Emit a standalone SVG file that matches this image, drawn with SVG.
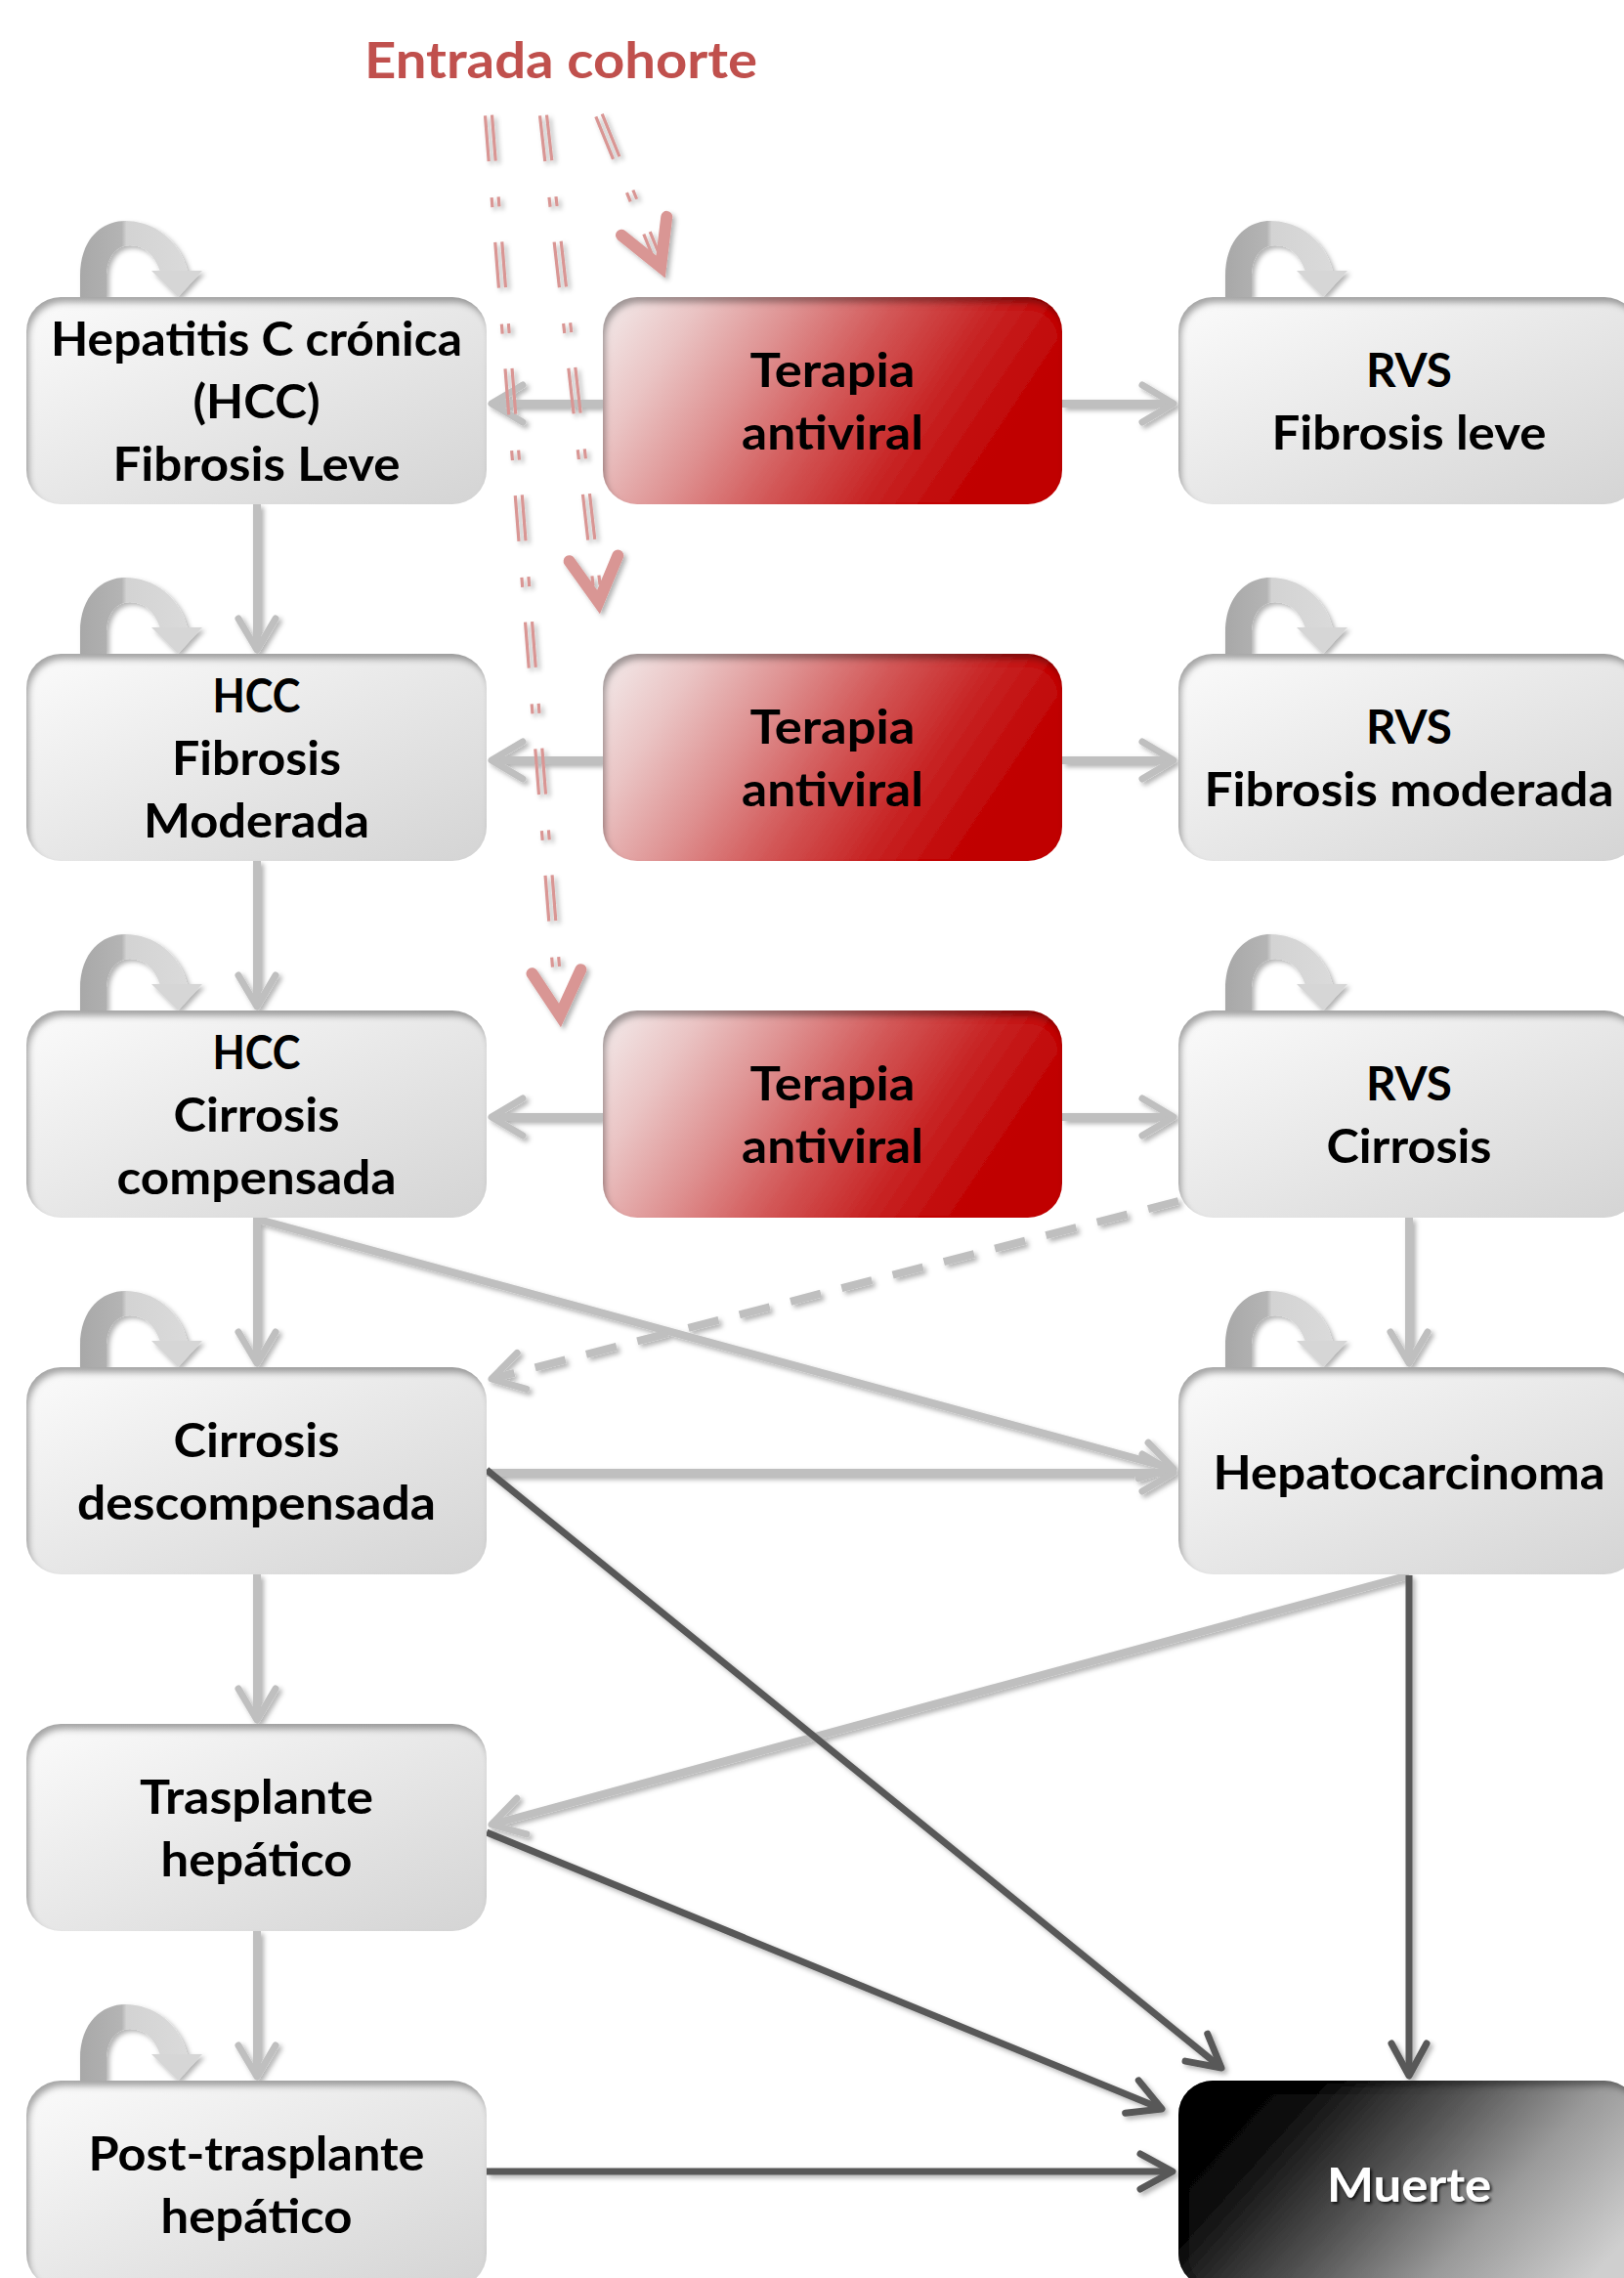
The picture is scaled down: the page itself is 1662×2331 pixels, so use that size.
<svg xmlns="http://www.w3.org/2000/svg" width="1662" height="2331" viewBox="0 0 1662 2331">
<style>
.t{font-family:Lato,"Open Sans","Liberation Sans",sans-serif;font-weight:700;font-size:48px;fill:#000;text-anchor:middle}
.tw{fill:#fff}
.lg{fill:none;stroke:#bfbfbf;stroke-width:8}
.dk{fill:none;stroke:#595959;stroke-width:7}
.rd{fill:none;stroke:#d99694;stroke-width:3.2;stroke-dasharray:47 37 10 36}
.box{fill:url(#gGrey)}
.red{fill:url(#gRed)}
</style>
<defs>
<linearGradient id="gGrey" x1="0" y1="0" x2="1" y2="1"><stop offset="0" stop-color="#fbfbfb"/><stop offset="1" stop-color="#d4d4d4"/></linearGradient>
<linearGradient id="gRed" x1="0" y1="0" x2="1" y2="0.3"><stop offset="0" stop-color="#f3ecec"/><stop offset="0.2" stop-color="#eac4c4"/><stop offset="0.4" stop-color="#de9090"/><stop offset="0.6" stop-color="#d25656"/><stop offset="0.8" stop-color="#c72424"/><stop offset="1" stop-color="#c00000"/></linearGradient>
<linearGradient id="gBlack" x1="0" y1="0.3" x2="1" y2="0.7"><stop offset="0" stop-color="#000"/><stop offset="0.15" stop-color="#0a0a0a"/><stop offset="0.45" stop-color="#555"/><stop offset="0.7" stop-color="#9a9a9a"/><stop offset="1" stop-color="#cfcfcf"/></linearGradient>
<linearGradient id="gLoop" gradientUnits="userSpaceOnUse" x1="55" y1="0" x2="180" y2="0"><stop offset="0" stop-color="#a8a8a8"/><stop offset="0.34" stop-color="#b4b4b4"/><stop offset="0.38" stop-color="#d3d3d3"/><stop offset="1" stop-color="#dcdcdc"/></linearGradient>
<filter id="inset" x="-5%" y="-5%" width="110%" height="110%">
<feOffset in="SourceAlpha" dx="3" dy="6" result="o"/>
<feGaussianBlur in="o" stdDeviation="3" result="b"/>
<feComposite in="SourceAlpha" in2="b" operator="out" result="edge"/>
<feFlood flood-color="#000" flood-opacity="0.6"/>
<feComposite in2="edge" operator="in" result="sh"/>
<feMerge><feMergeNode in="SourceGraphic"/><feMergeNode in="sh"/></feMerge>
</filter>
<filter id="sh" x="-20%" y="-20%" width="140%" height="140%">
<feDropShadow dx="3" dy="3" stdDeviation="2.5" flood-color="#000" flood-opacity="0.3"/>
</filter>
<filter id="tsh" x="-20%" y="-20%" width="140%" height="140%">
<feDropShadow dx="2" dy="2" stdDeviation="1.5" flood-color="#000" flood-opacity="0.8"/>
</filter>
<marker id="mL" markerUnits="userSpaceOnUse" markerWidth="80" markerHeight="80" viewBox="-40 -40 80 80" refX="0" refY="0" orient="auto" overflow="visible">
<path d="M-32,-19 L0,0 L-32,19" fill="none" stroke="#bfbfbf" stroke-width="7" stroke-linecap="round" stroke-linejoin="round"/>
</marker>
<marker id="mD" markerUnits="userSpaceOnUse" markerWidth="80" markerHeight="80" viewBox="-40 -40 80 80" refX="0" refY="0" orient="auto" overflow="visible">
<path d="M-33,-18 L0,0 L-33,18" fill="none" stroke="#595959" stroke-width="7" stroke-linecap="round" stroke-linejoin="round"/>
</marker>
<marker id="mR" markerUnits="userSpaceOnUse" markerWidth="120" markerHeight="120" viewBox="-60 -60 120 120" refX="0" refY="0" orient="auto" overflow="visible">
<path d="M-58,-25 L-13,0 L-58,25" fill="none" stroke="#d99694" stroke-width="12" stroke-linecap="round" stroke-linejoin="miter"/>
</marker>
<g id="loop" filter="url(#sh)">
<path d="M55,0 L55,-22 C55,-60 78,-78 101,-78 C131,-78 157,-58 165,-26 L137,-26 C131,-44 120,-53 106,-53 C93,-53 82,-42 82,-22 L82,0 Z" fill="url(#gLoop)"/>
<path d="M128,-27 L180,-27 L155,0 Z" fill="#d6d6d6"/>
</g>
</defs>
<rect width="1662" height="2331" fill="#fff"/>

<text x="574" y="80" style="font-family:Lato,'Open Sans','Liberation Sans',sans-serif;font-weight:700;font-size:52px;fill:#c0504d;text-anchor:middle" textLength="402" lengthAdjust="spacingAndGlyphs">Entrada cohorte</text>

<g id="connectors" filter="url(#sh)">
<path class="lg" d="M263,516 L263,665" marker-end="url(#mL)"/>
<path class="lg" d="M263,881 L263,1030" marker-end="url(#mL)"/>
<path class="lg" d="M263,1246 L263,1395" marker-end="url(#mL)"/>
<path class="lg" d="M263,1611 L263,1760" marker-end="url(#mL)"/>
<path class="lg" d="M263,1976 L263,2125" marker-end="url(#mL)"/>
<path class="lg" d="M617,413 L503,413" marker-end="url(#mL)"/>
<path class="lg" d="M617,778 L503,778" marker-end="url(#mL)"/>
<path class="lg" d="M617,1143 L503,1143" marker-end="url(#mL)"/>
<path class="lg" d="M1087,413 L1201,413" marker-end="url(#mL)"/>
<path class="lg" d="M1087,778 L1201,778" marker-end="url(#mL)"/>
<path class="lg" d="M1087,1143 L1201,1143" marker-end="url(#mL)"/>
<path class="lg" d="M1442,1246 L1442,1395" marker-end="url(#mL)"/>
<path class="lg" d="M265,1248 L1201,1503" marker-end="url(#mL)"/>
<path class="lg" d="M498,1507 L1201,1507" marker-end="url(#mL)"/>
<path class="lg" d="M1442,1612 L503,1867" marker-end="url(#mL)"/>
<path class="lg" d="M1206,1229 L503,1411" stroke-dasharray="32 22" marker-end="url(#mL)"/>
<path class="dk" d="M498,1504 L1250,2116" marker-end="url(#mD)"/>
<path class="dk" d="M498,1875 L1189,2158" marker-end="url(#mD)"/>
<path class="dk" d="M1442,1612 L1442,2124" marker-end="url(#mD)"/>
<path class="dk" d="M498,2222 L1200,2222" marker-end="url(#mD)"/>
<g id="entry1">
<path class="rd" d="M616.2,116.7 L679.7,272.7"/>
<path class="rd" d="M609.8,119.3 L673.3,275.3"/>
<path d="M613,118 L681,285" stroke="none" fill="none" marker-end="url(#mR)"/>
</g>
<g id="entry2">
<path class="rd" d="M559.5,117.6 L616.1,616.6"/>
<path class="rd" d="M552.5,118.4 L609.1,617.4"/>
<path d="M556,118 L614,629" stroke="none" fill="none" marker-end="url(#mR)"/>
</g>
<g id="entry3">
<path class="rd" d="M503.5,117.7 L576.5,1039.7"/>
<path class="rd" d="M496.5,118.3 L569.5,1040.3"/>
<path d="M500,118 L574,1052" stroke="none" fill="none" marker-end="url(#mR)"/>
</g>
</g>

<g id="n-hcc-leve">
<use href="#loop" x="27" y="304"/>
<rect class="box" x="27" y="304" width="471" height="212" rx="35" filter="url(#inset)"/>
<text class="t" x="262.5" y="364" textLength="421" lengthAdjust="spacingAndGlyphs">Hepatitis C crónica</text>
<text class="t" x="262.5" y="428" textLength="130" lengthAdjust="spacingAndGlyphs">(HCC)</text>
<text class="t" x="262.5" y="492" textLength="294" lengthAdjust="spacingAndGlyphs">Fibrosis Leve</text>
</g>
<g id="n-hcc-moderada">
<use href="#loop" x="27" y="669"/>
<rect class="box" x="27" y="669" width="471" height="212" rx="35" filter="url(#inset)"/>
<text class="t" x="262.5" y="729" textLength="90" lengthAdjust="spacingAndGlyphs">HCC</text>
<text class="t" x="262.5" y="793" textLength="173" lengthAdjust="spacingAndGlyphs">Fibrosis</text>
<text class="t" x="262.5" y="857" textLength="231" lengthAdjust="spacingAndGlyphs">Moderada</text>
</g>
<g id="n-hcc-compensada">
<use href="#loop" x="27" y="1034"/>
<rect class="box" x="27" y="1034" width="471" height="212" rx="35" filter="url(#inset)"/>
<text class="t" x="262.5" y="1094" textLength="90" lengthAdjust="spacingAndGlyphs">HCC</text>
<text class="t" x="262.5" y="1158" textLength="170" lengthAdjust="spacingAndGlyphs">Cirrosis</text>
<text class="t" x="262.5" y="1222" textLength="286" lengthAdjust="spacingAndGlyphs">compensada</text>
</g>
<g id="n-descompensada">
<use href="#loop" x="27" y="1399"/>
<rect class="box" x="27" y="1399" width="471" height="212" rx="35" filter="url(#inset)"/>
<text class="t" x="262.5" y="1491" textLength="170" lengthAdjust="spacingAndGlyphs">Cirrosis</text>
<text class="t" x="262.5" y="1555" textLength="367" lengthAdjust="spacingAndGlyphs">descompensada</text>
</g>
<g id="n-trasplante">
<rect class="box" x="27" y="1764" width="471" height="212" rx="35" filter="url(#inset)"/>
<text class="t" x="262.5" y="1856" textLength="239" lengthAdjust="spacingAndGlyphs">Trasplante</text>
<text class="t" x="262.5" y="1920" textLength="196" lengthAdjust="spacingAndGlyphs">hepático</text>
</g>
<g id="n-post">
<use href="#loop" x="27" y="2129"/>
<rect class="box" x="27" y="2129" width="471" height="212" rx="35" filter="url(#inset)"/>
<text class="t" x="262.5" y="2221" textLength="344" lengthAdjust="spacingAndGlyphs">Post-trasplante</text>
<text class="t" x="262.5" y="2285" textLength="196" lengthAdjust="spacingAndGlyphs">hepático</text>
</g>
<g id="n-terapia1">
<rect class="red" x="617" y="304" width="470" height="212" rx="35" filter="url(#inset)"/>
<text class="t" x="852" y="395.5" textLength="169" lengthAdjust="spacingAndGlyphs">Terapia</text>
<text class="t" x="852" y="459.5" textLength="186" lengthAdjust="spacingAndGlyphs">antiviral</text>
</g>
<g id="n-terapia2">
<rect class="red" x="617" y="669" width="470" height="212" rx="35" filter="url(#inset)"/>
<text class="t" x="852" y="760.5" textLength="169" lengthAdjust="spacingAndGlyphs">Terapia</text>
<text class="t" x="852" y="824.5" textLength="186" lengthAdjust="spacingAndGlyphs">antiviral</text>
</g>
<g id="n-terapia3">
<rect class="red" x="617" y="1034" width="470" height="212" rx="35" filter="url(#inset)"/>
<text class="t" x="852" y="1125.5" textLength="169" lengthAdjust="spacingAndGlyphs">Terapia</text>
<text class="t" x="852" y="1189.5" textLength="186" lengthAdjust="spacingAndGlyphs">antiviral</text>
</g>
<g id="n-rvs-leve">
<use href="#loop" x="1199" y="304"/>
<rect class="box" x="1206" y="304" width="471" height="212" rx="35" filter="url(#inset)"/>
<text class="t" x="1442" y="395.5" textLength="88" lengthAdjust="spacingAndGlyphs">RVS</text>
<text class="t" x="1442" y="459.5" textLength="281" lengthAdjust="spacingAndGlyphs">Fibrosis leve</text>
</g>
<g id="n-rvs-moderada">
<use href="#loop" x="1199" y="669"/>
<rect class="box" x="1206" y="669" width="471" height="212" rx="35" filter="url(#inset)"/>
<text class="t" x="1442" y="760.5" textLength="88" lengthAdjust="spacingAndGlyphs">RVS</text>
<text class="t" x="1442" y="824.5" textLength="419" lengthAdjust="spacingAndGlyphs">Fibrosis moderada</text>
</g>
<g id="n-rvs-cirrosis">
<use href="#loop" x="1199" y="1034"/>
<rect class="box" x="1206" y="1034" width="471" height="212" rx="35" filter="url(#inset)"/>
<text class="t" x="1442" y="1125.5" textLength="88" lengthAdjust="spacingAndGlyphs">RVS</text>
<text class="t" x="1442" y="1189.5" textLength="169" lengthAdjust="spacingAndGlyphs">Cirrosis</text>
</g>
<g id="n-hepatocarcinoma">
<use href="#loop" x="1199" y="1399"/>
<rect class="box" x="1206" y="1399" width="471" height="212" rx="35" filter="url(#inset)"/>
<text class="t" x="1442" y="1523.5" textLength="401" lengthAdjust="spacingAndGlyphs">Hepatocarcinoma</text>
</g>
<g id="n-muerte">
<rect x="1206" y="2129" width="471" height="212" rx="35" fill="url(#gBlack)" filter="url(#inset)"/>
<text class="t tw" x="1442" y="2253" textLength="168" lengthAdjust="spacingAndGlyphs" filter="url(#tsh)">Muerte</text>
</g>
</svg>
